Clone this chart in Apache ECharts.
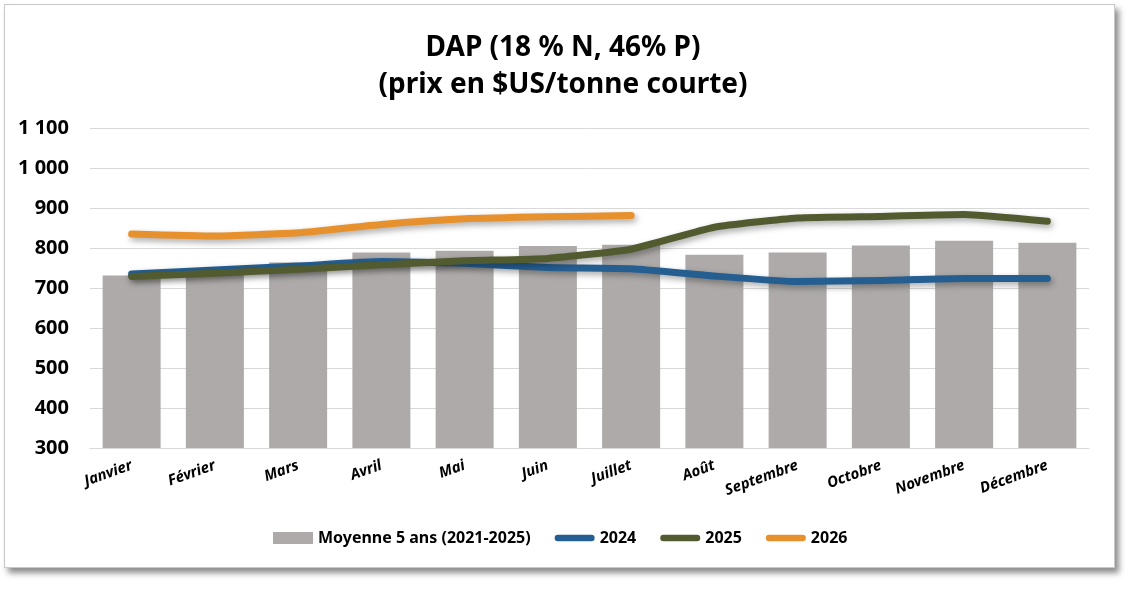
<!DOCTYPE html>
<html>
<head>
<meta charset="utf-8">
<script src="https://cdn.jsdelivr.net/npm/echarts@6/dist/echarts.min.js"></script>
<style>
  html, body { margin: 0; padding: 0; background: #fff; }
  #frame {
    position: absolute; left: 4px; top: 4px; width: 1109px; height: 562px;
    border: 1px solid #c8c8c8; box-shadow: 4px 5px 6px rgba(0,0,0,0.45); background: #fff;
  }
  #main { position: absolute; left: 0; top: 0; width: 1134px; height: 590px; }
</style>
</head>
<body>
<div id="frame"></div>
<div id="main"></div>
<script>
const months = ['Janvier', 'Février', 'Mars', 'Avril', 'Mai', 'Juin', 'Juillet', 'Août', 'Septembre', 'Octobre', 'Novembre', 'Décembre'];
const avg5 = [731, 738, 764, 789, 793, 805, 808, 783, 789, 806, 818, 813];
const y2024 = [735, 745, 755, 766, 762, 751, 748, 730, 716, 719, 724, 724];
const y2025 = [729, 737, 747, 758, 768, 774, 797, 852, 875, 879, 884, 867];
const y2026 = [835, 830, 838, 859, 873, 878, 881];

const font = "'Noto Sans', sans-serif";
// pill shaped legend mark for the lines (first two moves only set the box)
const pill = 'path://M0,0L0,0M44,12L44,12M3.5,2.5L40.5,2.5A3.5,3.5,0,0,1,40.5,9.5L3.5,9.5A3.5,3.5,0,0,1,3.5,2.5Z';

const chart = echarts.init(document.getElementById('main'));

function lineSeries(name, data, color) {
    return {
        name: name,
        type: 'line',
        data: data,
        symbol: 'none',
        smooth: 0.15,
        z: 3,
        lineStyle: {
            width: 7,
            color: color,
            cap: 'round',
            join: 'round',
            shadowColor: 'rgba(0,0,0,0.35)',
            shadowBlur: 6,
            shadowOffsetX: 2,
            shadowOffsetY: 3
        },
        itemStyle: { color: color }
    };
}

option = {
    animation: false,
    textStyle: { fontFamily: font },
    title: {
        text: 'DAP (18 % N, 46% P)\n(prix en $US/tonne courte)',
        left: 558,
        textAlign: 'center',
        top: 25,
        textStyle: {
            fontFamily: font,
            fontSize: 28,
            fontWeight: 'bold',
            color: '#000',
            lineHeight: 37
        }
    },
    grid: {
        left: 90,
        right: 45,
        top: 128,
        bottom: 142
    },
    legend: {
        bottom: 39,
        left: 268,
        itemGap: 24,
        itemWidth: 40,
        itemHeight: 12,
        textStyle: { fontFamily: font, fontSize: 16, fontWeight: 'bold', color: '#000' },
        data: [
            { name: 'Moyenne 5 ans (2021-2025)', icon: 'rect' },
            { name: '2024', icon: pill },
            { name: '2025', icon: pill },
            { name: '2026', icon: pill }
        ]
    },
    xAxis: {
        type: 'category',
        data: months,
        axisLine: { lineStyle: { color: '#d9d9d9', width: 1 } },
        axisTick: { show: false },
        axisLabel: {
            rotate: 20,
            margin: 17,
            interval: 0,
            fontFamily: font,
            fontSize: 15,
            fontWeight: 'bold',
            fontStyle: 'italic',
            color: '#000'
        }
    },
    yAxis: {
        type: 'value',
        min: 300,
        max: 1100,
        interval: 100,
        axisLine: { show: false },
        axisTick: { show: false },
        splitLine: { lineStyle: { color: '#d9d9d9', width: 1 } },
        axisLabel: {
            margin: 21,
            fontFamily: font,
            fontSize: 20,
            fontWeight: 'bold',
            color: '#000',
            formatter: function(v) {
                return String(v).replace(/\B(?=(\d{3})+(?!\d))/g, ' ');
            }
        }
    },
    series: [
        {
            name: 'Moyenne 5 ans (2021-2025)',
            type: 'bar',
            data: avg5,
            barWidth: 58,
            z: 2,
            itemStyle: { color: '#AEAAAA' }
        },
        lineSeries('2024', y2024, '#255E91'),
        lineSeries('2025', y2025, '#525B30'),
        lineSeries('2026', y2026, '#E6902E')
    ]
};
chart.setOption(option);
</script>
</body>
</html>
